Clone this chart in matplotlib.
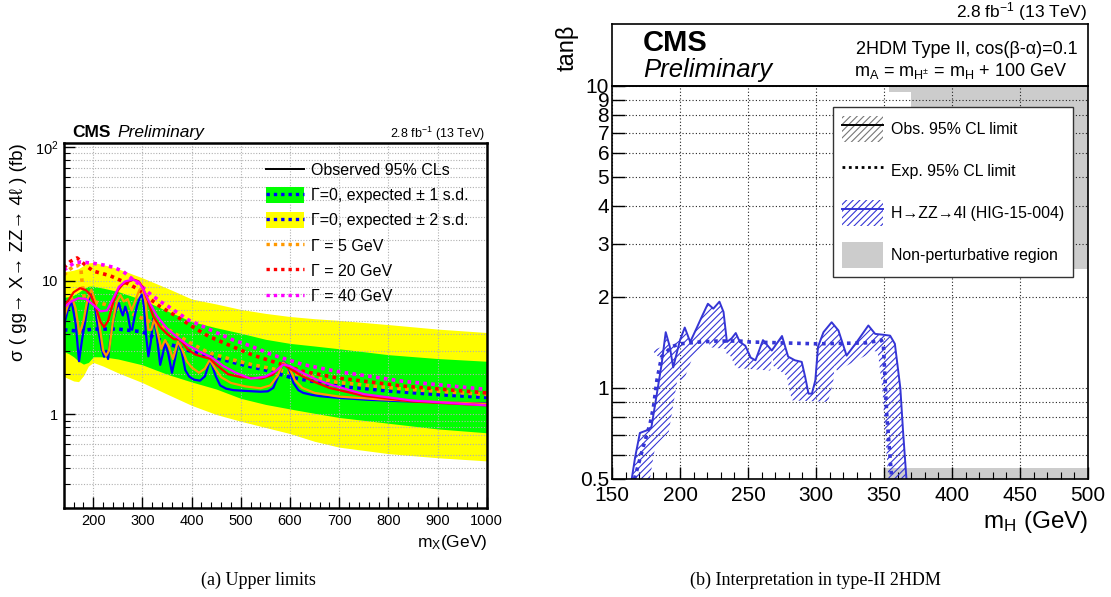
import numpy as np
import matplotlib
matplotlib.use("Agg")
import matplotlib.pyplot as plt
from matplotlib.patches import Patch, Polygon
from matplotlib.lines import Line2D
from matplotlib.ticker import FixedLocator, NullFormatter, FixedFormatter

plt.rcParams['font.family'] = ['Liberation Sans', 'DejaVu Sans']
plt.rcParams['mathtext.fontset'] = 'custom'
plt.rcParams['mathtext.rm'] = 'Liberation Sans'
plt.rcParams['mathtext.it'] = 'Liberation Sans:italic'
plt.rcParams['mathtext.bf'] = 'Liberation Sans:bold'
plt.rcParams['hatch.linewidth'] = 0.8

# ---------------- Left panel data ----------------
band_m = [140, 150, 160, 170, 180, 190, 200, 220, 250, 300, 350, 400, 450, 500, 550, 600, 650, 700, 800, 900, 1000]
yellow_hi = [11.7, 11.8, 12.0, 12.3, 13.0, 13.6, 13.7, 13.2, 12.3, 10.5, 8.8, 7.3, 6.7, 6.1, 5.7, 5.4, 5.2, 5.05, 4.7, 4.35, 4.1]
green_hi = [7.5, 7.6, 7.8, 8.2, 8.7, 9.1, 9.1, 8.8, 8.3, 7.2, 5.95, 4.95, 4.45, 4.05, 3.65, 3.4, 3.25, 3.1, 2.8, 2.62, 2.5]
green_lo = [2.95, 2.85, 2.7, 2.5, 2.38, 2.45, 2.7, 2.7, 2.6, 2.35, 2.0, 1.75, 1.55, 1.32, 1.19, 1.1, 1.02, 0.95, 0.86, 0.78, 0.73]
yellow_lo = [1.92, 1.85, 1.78, 1.76, 1.95, 2.3, 2.45, 2.3, 2.05, 1.73, 1.42, 1.17, 1.0, 0.89, 0.8, 0.72, 0.63, 0.57, 0.51, 0.475, 0.45]

exp0_m = [140, 170, 200, 250, 300, 350, 400, 450, 500, 550, 600, 700, 800, 900, 1000]
exp0_v = [4.3, 4.2, 4.35, 4.35, 4.15, 3.4, 2.95, 2.65, 2.37, 2.15, 1.9, 1.63, 1.5, 1.41, 1.34]

exp5_m = [140, 150, 160, 170, 175, 178, 182, 190, 200, 250, 296, 336, 353, 393, 434, 482, 522, 563, 627, 695, 830, 1000]
exp5_v = [11.0, 12.0, 12.8, 13.0, 12.0, 9.0, 7.3, 7.0, 7.0, 6.3, 5.3, 4.6, 4.3, 3.5, 2.9, 2.57, 2.36, 2.2, 1.97, 1.74, 1.55, 1.41]

exp20_m = [140, 153, 167, 187, 200, 234, 268, 290, 309, 336, 370, 403, 434, 482, 522, 563, 627, 695, 830, 1000]
exp20_v = [12.5, 13.9, 14.8, 12.8, 11.8, 10.9, 9.6, 8.7, 7.6, 6.4, 5.4, 4.5, 3.85, 3.23, 2.8, 2.5, 2.1, 1.88, 1.63, 1.45]

exp40_m = [140, 160, 175, 200, 221, 241, 261, 278, 295, 315, 336, 353, 393, 434, 482, 522, 563, 627, 695, 830, 1000]
exp40_v = [12.0, 13.5, 13.8, 13.5, 13.1, 12.6, 11.7, 10.4, 9.3, 8.0, 7.0, 6.4, 5.1, 4.36, 3.63, 3.23, 2.8, 2.36, 2.1, 1.77, 1.54]

obs0_m = [140, 148, 156, 164, 171, 177, 183, 190, 196, 203, 210, 217, 222, 226, 230, 235, 241, 247, 252, 256, 260,
          265, 270, 275, 279, 284, 289, 294, 299, 303, 307, 312, 317, 322, 328, 336, 341, 346, 352, 360, 366, 373,
          380, 387, 395, 405, 417, 427, 432, 437, 442, 449, 458, 470, 485, 510, 540, 555, 566, 576, 586, 596, 607,
          617, 627, 645, 661, 700, 756, 820, 891, 950, 1000]
obs0_v = [4.56, 6.0, 7.0, 4.8, 2.5, 3.6, 4.83, 7.0, 8.5, 6.5, 4.3, 3.1, 2.7, 3.0, 2.6, 3.8, 5.1, 6.2, 6.8, 6.0, 5.5,
          6.4, 5.6, 4.4, 4.3, 5.4, 6.5, 7.4, 7.9, 6.4, 4.0, 2.72, 3.5, 5.2, 4.2, 2.35, 2.8, 3.4, 2.9, 2.05, 2.6, 3.5,
          2.9, 2.15, 1.92, 1.82, 1.79, 1.93, 2.2, 2.57, 2.3, 1.93, 1.65, 1.56, 1.52, 1.5, 1.48, 1.49, 1.58, 1.93, 2.47,
          2.3, 1.72, 1.52, 1.45, 1.4, 1.37, 1.33, 1.29, 1.26, 1.24, 1.22, 1.21]

obs5_m = [140, 148, 156, 164, 172, 180, 188, 196, 204, 212, 220, 226, 232, 240, 248, 255, 262, 270, 278, 286, 294,
          300, 306, 312, 318, 324, 330, 338, 346, 354, 362, 372, 380, 390, 400, 415, 427, 437, 448, 460, 480, 510,
          540, 560, 575, 586, 598, 610, 625, 650, 700, 780, 900, 1000]
obs5_v = [5.2, 6.5, 7.6, 6.2, 4.0, 5.0, 7.2, 8.6, 7.0, 4.8, 3.0, 2.75, 3.0, 5.0, 7.0, 7.8, 7.0, 7.3, 6.0, 7.2, 8.6,
          8.8, 7.0, 4.3, 4.3, 5.2, 4.2, 3.1, 3.6, 3.2, 2.6, 3.5, 3.1, 2.5, 2.25, 2.05, 2.2, 2.56, 2.2, 1.9, 1.72, 1.62,
          1.57, 1.65, 1.95, 2.45, 2.25, 1.8, 1.58, 1.45, 1.36, 1.3, 1.24, 1.2]

obs20_m = [140, 150, 160, 173, 185, 195, 205, 215, 222, 230, 240, 250, 260, 270, 282, 292, 300, 310, 322, 336, 350,
           364, 376, 392, 408, 425, 437, 450, 474, 500, 543, 565, 576, 586, 600, 625, 650, 680, 750, 850, 1000]
obs20_v = [6.4, 7.2, 8.2, 8.8, 8.5, 7.8, 6.3, 4.9, 4.5, 5.0, 6.8, 8.5, 9.4, 9.8, 10.2, 9.9, 9.0, 7.2, 5.4, 4.5, 4.0,
           3.65, 3.65, 3.06, 2.8, 2.68, 2.62, 2.35, 2.0, 1.9, 1.86, 1.98, 2.2, 2.38, 2.2, 1.93, 1.75, 1.58, 1.38, 1.25, 1.17]

obs40_m = [140, 155, 170, 185, 200, 215, 228, 240, 252, 265, 280, 292, 302, 315, 330, 350, 370, 392, 420, 440, 465,
           490, 520, 550, 570, 586, 600, 625, 650, 680, 750, 850, 1000]
obs40_v = [6.3, 7.0, 7.4, 7.3, 6.6, 5.9, 6.0, 7.3, 9.0, 9.9, 10.2, 9.8, 8.6, 6.8, 5.4, 4.4, 3.8, 3.3, 2.9, 2.68, 2.3,
           2.05, 1.85, 1.92, 2.1, 2.36, 2.3, 2.05, 1.85, 1.68, 1.42, 1.27, 1.17]

# ---------------- Right panel data ----------------
hzz_obs_m = [164.5, 167, 170.5, 175.5, 179, 183, 186.5, 189.5, 192.5, 195, 200, 203.5, 207.5, 212, 216, 220.5, 224.5,
             229, 232, 234.5, 238, 241, 244, 248, 252, 255.5, 261, 267.5, 275, 279.5, 284.5, 289.5, 292, 294.5, 297,
             299.5, 301.5, 305.5, 311.5, 316.5, 322.5, 330, 338.5, 343.5, 349.5, 354.5, 358, 362, 364, 366.5]
hzz_obs_t = [0.5, 0.59, 0.71, 0.724, 0.743, 0.958, 1.2, 1.53, 1.37, 1.17, 1.44, 1.585, 1.42, 1.57, 1.72, 1.9, 1.83,
             1.93, 1.785, 1.42, 1.46, 1.52, 1.42, 1.38, 1.26, 1.235, 1.44, 1.33, 1.486, 1.27, 1.235, 1.22, 1.09, 0.958,
             0.958, 1.06, 1.37, 1.53, 1.65, 1.55, 1.28, 1.42, 1.61, 1.51, 1.5, 1.49, 1.4, 1.0, 0.72, 0.5]
hzz_exp_m = [166.5, 173, 178, 180.5, 183, 186.5, 194, 200, 215, 227, 244, 251.5, 300.5, 337, 348, 349.5, 352, 355.7]
hzz_exp_t = [0.5, 0.64, 0.762, 0.866, 1.06, 1.27, 1.37, 1.40, 1.42, 1.43, 1.43, 1.42, 1.40, 1.41, 1.44, 1.40, 0.82, 0.5]
nonpert_top_m = [354, 370, 370, 500]
nonpert_top_lo = [9.55, 9.55, 2.47, 2.47]
nonpert_bot_m = [350, 500]
nonpert_bot_hi = [0.545, 0.545]

W, H = 1111, 597
fig = plt.figure(figsize=(W / 100, H / 100), dpi=100)

def fx(px):
    return px / W

def fy(py):
    return 1 - py / H

# ================= Left panel =================
L_l, L_r, L_t, L_b = 63.8, 486.7, 143, 508
axL = fig.add_axes([fx(L_l), fy(L_b), fx(L_r - L_l), (L_b - L_t) / H])
axL.set_yscale('log')
axL.set_xlim(140, 1000)
axL.set_ylim(0.2, 107)

YEL = '#ffff00'
GRN = '#00ff00'
BLU = '#0000ff'
ORA = '#ff9900'
RED = '#ff0000'
MAG = '#ff00ff'

axL.fill_between(band_m, yellow_lo, yellow_hi, color=YEL, lw=0, zorder=1)
axL.fill_between(band_m, green_lo, green_hi, color=GRN, lw=0, zorder=1.1)

dot = (0, (1, 1.2))
axL.plot(exp0_m, exp0_v, color=BLU, lw=2.6, ls=dot, zorder=3)
axL.plot(exp5_m, exp5_v, color=ORA, lw=2.6, ls=dot, zorder=3)
axL.plot(exp20_m, exp20_v, color=RED, lw=2.6, ls=dot, zorder=3)
axL.plot(exp40_m, exp40_v, color=MAG, lw=2.6, ls=dot, zorder=3)

axL.plot(obs0_m, obs0_v, color=BLU, lw=1.6, zorder=4)
axL.plot(obs5_m, obs5_v, color=ORA, lw=1.6, zorder=4.1)
axL.plot(obs20_m, obs20_v, color=RED, lw=1.6, zorder=4.2)
axL.plot(obs40_m, obs40_v, color=MAG, lw=1.6, zorder=4.3)

axL.xaxis.set_major_locator(FixedLocator([200, 300, 400, 500, 600, 700, 800, 900, 1000]))
axL.xaxis.set_minor_locator(FixedLocator(np.arange(140, 1001, 20)))
axL.yaxis.set_major_locator(FixedLocator([1, 10, 100]))
axL.yaxis.set_major_formatter(FixedFormatter(['1', '10', '10$^{2}$']))
minors = [v * d for d in (0.1, 1, 10) for v in range(2, 10)]
axL.yaxis.set_minor_locator(FixedLocator(minors))
axL.yaxis.set_minor_formatter(NullFormatter())
axL.tick_params(which='both', direction='in', top=False, right=False, labelsize=10.5, pad=4)
axL.tick_params(which='major', length=8, width=1)
axL.tick_params(which='minor', length=4, width=0.8)
axL.grid(True, which='major', axis='x', color='#b0b0b0', ls=(0, (1, 1.5)), lw=0.8, zorder=2)
axL.grid(True, which='both', axis='y', color='#b0b0b0', ls=(0, (1, 1.5)), lw=0.8, zorder=2)
axL.set_axisbelow(False)
for s in axL.spines.values():
    s.set_linewidth(1.8)
    s.set_zorder(6)

handlesL = [
    Line2D([], [], color='black', lw=1.4),
    (Patch(facecolor=GRN, edgecolor='none'), Line2D([], [], color=BLU, lw=2.4, ls=dot)),
    (Patch(facecolor=YEL, edgecolor='none'), Line2D([], [], color=BLU, lw=2.4, ls=dot)),
    Line2D([], [], color=ORA, lw=2.4, ls=dot),
    Line2D([], [], color=RED, lw=2.4, ls=dot),
    Line2D([], [], color=MAG, lw=2.4, ls=dot),
]
labelsL = ['Observed 95% CLs', 'Γ=0, expected ± 1 s.d.', 'Γ=0, expected ± 2 s.d.',
           'Γ = 5 GeV', 'Γ = 20 GeV', 'Γ = 40 GeV']
legL = fig.legend(handlesL, labelsL, loc='upper left', bbox_to_anchor=(fx(262), fy(158)),
                  frameon=False, fontsize=11.5, handlelength=2.4, handleheight=1.1, handletextpad=0.42,
                  labelspacing=0.57, borderpad=0.25, borderaxespad=0)
legL.set_zorder(10)

fig.text(fx(72), fy(137), 'CMS', fontsize=12.5, fontweight='bold', ha='left', va='baseline')
fig.text(fx(117), fy(137), 'Preliminary', fontsize=12.5, fontstyle='italic', ha='left', va='baseline')
fig.text(fx(485), fy(138), '2.8 fb$^{-1}$ (13 TeV)', fontsize=9, ha='right', va='baseline')
fig.text(fx(19), fy(143), 'σ ( gg→ X→ ZZ→ 4ℓ ) (fb)', fontsize=13.5, rotation=90, ha='center', va='top')
fig.text(fx(487), fy(547), 'm$_{\\rm X}$(GeV)', fontsize=12.5, ha='right', va='baseline')

# ================= Right panel =================
R_l, R_r, R_t, R_b, R_top = 612, 1088, 85.7, 479, 24
axR = fig.add_axes([fx(R_l), fy(R_b), fx(R_r - R_l), (R_b - R_t) / H])
axR.set_yscale('log')
axR.set_xlim(150, 500)
axR.set_ylim(0.5, 10)

HB = '#3535d5'
axR.fill_between(nonpert_top_m, nonpert_top_lo, 10, color='#cccccc', lw=0, zorder=1)
axR.fill_between(nonpert_bot_m, 0.5, nonpert_bot_hi, color='#cccccc', lw=0, zorder=1)

axR.xaxis.set_major_locator(FixedLocator([150, 200, 250, 300, 350, 400, 450, 500]))
axR.xaxis.set_minor_locator(FixedLocator(np.arange(150, 501, 10)))
axR.yaxis.set_major_locator(FixedLocator([0.5, 1, 2, 3, 4, 5, 6, 7, 8, 9, 10]))
axR.yaxis.set_major_formatter(FixedFormatter(['0.5', '1', '2', '3', '4', '5', '6', '7', '8', '9', '10']))
axR.yaxis.set_minor_locator(FixedLocator([0.6, 0.7, 0.8, 0.9]))
axR.yaxis.set_minor_formatter(NullFormatter())
axR.tick_params(which='both', direction='in', top=False, right=False, labelsize=15, pad=2)
axR.tick_params(axis='x', which='major', length=9, width=1, pad=5)
axR.tick_params(axis='x', which='minor', length=5, width=0.8)
axR.tick_params(axis='y', which='major', length=9, width=1)
axR.tick_params(axis='y', which='minor', length=9, width=1)
axR.grid(True, which='major', axis='x', color='#222222', ls=(0, (1, 2)), lw=0.8, zorder=2)
axR.grid(True, which='both', axis='y', color='#222222', ls=(0, (1, 2)), lw=0.8, zorder=2)
for s in axR.spines.values():
    s.set_linewidth(1.2)
    s.set_zorder(6)

fig.canvas.draw()

def hatch_band(ax, x, y, d):
    pts = ax.transData.transform(np.column_stack([x, y]))
    tg = np.gradient(pts, axis=0)
    tg /= np.linalg.norm(tg, axis=1)[:, None]
    nrm = np.column_stack([tg[:, 1], -tg[:, 0]])
    off = pts + d * nrm
    poly = np.vstack([pts, off[::-1]])
    return ax.transData.inverted().transform(poly)

poly = hatch_band(axR, hzz_obs_m, hzz_obs_t, 18)
axR.add_patch(Polygon(poly, closed=True, fill=False, hatch='/////', edgecolor=HB, lw=0, zorder=3))
axR.plot(hzz_obs_m, hzz_obs_t, color=HB, lw=1.4, zorder=4)
axR.plot(hzz_exp_m, hzz_exp_t, color=HB, lw=2.6, ls=(0, (1, 1.3)), zorder=4)

# header box
axH = fig.add_axes([fx(R_l), fy(R_t), fx(R_r - R_l), (R_t - R_top) / H])
axH.set_xticks([])
axH.set_yticks([])
for s in axH.spines.values():
    s.set_linewidth(1.2)
axH.patch.set_alpha(0)

fig.text(fx(643), fy(51), 'CMS', fontsize=21, fontweight='bold', ha='left', va='baseline')
fig.text(fx(643), fy(77), 'Preliminary', fontsize=18.5, fontstyle='italic', ha='left', va='baseline')
fig.text(fx(1078), fy(54), '2HDM Type II, cos(β-α)=0.1', fontsize=13, ha='right', va='baseline')
fig.text(fx(1067), fy(76), 'm$_{\\rm A}$ = m$_{\\rm H^{\\pm}}$ = m$_{\\rm H}$ + 100 GeV', fontsize=13, ha='right', va='baseline')
fig.text(fx(1087), fy(17), '2.8 fb$^{-1}$ (13 TeV)', fontsize=12.5, ha='right', va='baseline')
fig.text(fx(567), fy(25), 'tanβ', fontsize=17, rotation=90, ha='center', va='top')
fig.text(fx(1088), fy(528), 'm$_{\\rm H}$ (GeV)', fontsize=17.5, ha='right', va='baseline')

handlesR = [
    (Patch(facecolor='white', edgecolor='#777777', hatch='/////', lw=0), Line2D([], [], color='black', lw=1.4)),
    Line2D([], [], color='black', lw=2.0, ls=(0, (1, 1.3))),
    (Patch(facecolor='white', edgecolor=HB, hatch='/////', lw=0), Line2D([], [], color=HB, lw=1.4)),
    Patch(facecolor='#cccccc', edgecolor='none'),
]
labelsR = ['Obs. 95% CL limit', 'Exp. 95% CL limit', 'H→ZZ→4l (HIG-15-004)', 'Non-perturbative region']
legR = fig.legend(handlesR, labelsR, loc='upper left', bbox_to_anchor=(fx(833), fy(107)),
                  frameon=True, fancybox=False, framealpha=1, edgecolor='#333333', facecolor='white',
                  fontsize=11.4, handlelength=2.6, handleheight=2.2, handletextpad=0.5,
                  labelspacing=0.98, borderpad=0.55, borderaxespad=0)
legR.get_frame().set_linewidth(1.0)
legR.set_zorder(10)

fig.text(fx(258), fy(585), '(a) Upper limits', fontsize=13, family='Liberation Serif', ha='center', va='baseline')
fig.text(fx(815), fy(585), '(b) Interpretation in type-II 2HDM', fontsize=13, family='Liberation Serif',
         ha='center', va='baseline')

fig.savefig('out.png', dpi=100)
